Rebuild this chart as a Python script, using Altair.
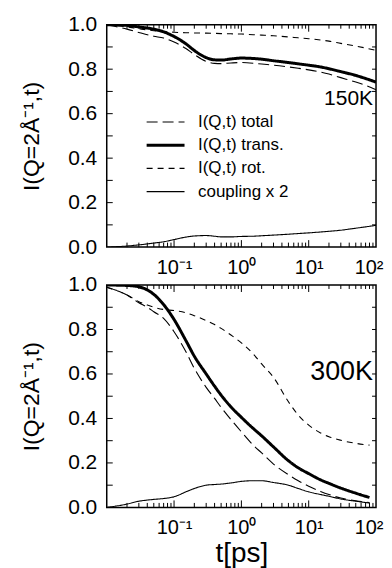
import altair as alt
import pandas as pd

# ---------------- data ----------------
SERIES = ["I(Q,t) total", "I(Q,t) trans.", "I(Q,t) rot.", "coupling x 2"]

T150 = [0.01, 0.02, 0.03, 0.05, 0.07, 0.1, 0.15, 0.2, 0.3, 0.4, 0.5, 0.7, 1,
        1.5, 2, 3, 5, 7, 10, 15, 20, 30, 50, 70, 100]
total150 = [1.0, 0.98, 0.965, 0.948, 0.94, 0.922, 0.893, 0.866, 0.835, 0.826, 0.825,
            0.828, 0.83, 0.827, 0.823, 0.818, 0.81, 0.804, 0.797, 0.787, 0.778,
            0.762, 0.742, 0.727, 0.708]
trans150 = [1.0, 0.997, 0.99, 0.98, 0.968, 0.947, 0.914, 0.884, 0.852, 0.842, 0.841,
            0.846, 0.85, 0.848, 0.845, 0.838, 0.83, 0.824, 0.818, 0.81, 0.802,
            0.789, 0.772, 0.758, 0.742]
rot150 = [1.0, 0.99, 0.982, 0.973, 0.969, 0.966, 0.964, 0.963, 0.962, 0.961, 0.96,
          0.959, 0.958, 0.955, 0.953, 0.95, 0.945, 0.941, 0.937, 0.931, 0.926,
          0.916, 0.904, 0.895, 0.885]
coup150 = [0.0, 0.005, 0.01, 0.018, 0.024, 0.034, 0.045, 0.05, 0.052, 0.049, 0.046,
           0.046, 0.048, 0.049, 0.051, 0.054, 0.058, 0.061, 0.064, 0.068, 0.071,
           0.076, 0.085, 0.091, 0.098]

T300 = [0.01, 0.02, 0.03, 0.04, 0.05, 0.07, 0.1, 0.15, 0.2, 0.3, 0.4, 0.5, 0.7, 1,
        1.5, 2, 3, 5, 7, 10, 15, 20, 30, 50, 70, 80]
total300 = [0.99, 0.955, 0.92, 0.9, 0.88, 0.85, 0.79, 0.7, 0.625, 0.54, 0.49, 0.45,
            0.395, 0.34, 0.28, 0.245, 0.195, 0.147, 0.12, 0.095, 0.072, 0.058,
            0.042, 0.03, 0.024, 0.022]
trans300 = [1.0, 0.998, 0.992, 0.978, 0.958, 0.912, 0.845, 0.75, 0.68, 0.6, 0.545,
            0.505, 0.452, 0.405, 0.355, 0.322, 0.272, 0.21, 0.178, 0.152, 0.124, 0.108,
            0.087, 0.064, 0.05, 0.045]
rot300 = [0.99, 0.955, 0.925, 0.91, 0.9, 0.89, 0.885, 0.875, 0.862, 0.84, 0.822,
          0.805, 0.775, 0.74, 0.69, 0.645, 0.585, 0.475, 0.415, 0.37, 0.335, 0.318,
          0.302, 0.288, 0.282, 0.28]
coup300 = [0.0, 0.015, 0.028, 0.033, 0.036, 0.04, 0.048, 0.07, 0.085, 0.1, 0.103,
           0.105, 0.11, 0.117, 0.12, 0.12, 0.112, 0.1, 0.085, 0.07, 0.058, 0.05,
           0.038, 0.028, 0.022, 0.02]

PANEL_LABELS = ["150K", "300K"]

XTICK_VALUES = [0.1, 1, 10, 100]
XTICK_LABELS = ["10\u207b\u00b9", "10\u2070", "10\u00b9", "10\u00b2"]
YTICK_VALUES = [0.0, 0.2, 0.4, 0.6, 0.8, 1.0]
XMAJOR = [0.1, 1, 10]
XMINOR = [m * d for d in [0.01, 0.1, 1, 10] for m in range(2, 10)]
YMINOR = [0.1, 0.2, 0.3, 0.4, 0.5, 0.6, 0.7, 0.8, 0.9]

YTITLE = "I(Q=2\u00c5\u207b\u00b9,t)"
XTITLE = "t[ps]"


def long_df(t, cols):
    rows = []
    for name, vals in zip(SERIES, cols):
        for ti, vi in zip(t, vals):
            rows.append({"t": ti, "v": vi, "series": name})
    return pd.DataFrame(rows)


df150 = long_df(T150, [total150, trans150, rot150, coup150])
df300 = long_df(T300, [total300, trans300, rot300, coup300])

# ---------------- styling ----------------
W, H = 270, 223
FONT = "Liberation Sans"

label_expr = " : ".join(
    [f"datum.value < {v * 1.5} ? '{l}'" for v, l in zip(XTICK_VALUES[:-1], XTICK_LABELS[:-1])]
    + [f"'{XTICK_LABELS[-1]}'"]
)

color_scale = alt.Scale(type="ordinal", domain=SERIES, range=["black"] * 4)
dash_scale = alt.Scale(type="ordinal", domain=SERIES, range=[[11, 5], [1, 0], [6, 5], [1, 0]])
width_scale = alt.Scale(type="ordinal", domain=SERIES, range=[1.1, 3.0, 1.1, 1.1])


def panel(df, label, label_size, label_y, legend, xtitle):
    x_enc = alt.X(
        "t:Q",
        scale=alt.Scale(type="log", domain=[0.01, 100], nice=False),
        axis=alt.Axis(values=XTICK_VALUES, labelExpr=label_expr, ticks=False,
                      domain=False, grid=False, labelFontSize=20, labelFont=FONT,
                      labelColor="black", labelPadding=10, labelFlush=True,
                      labelFlushOffset=7,
                      title=xtitle, titleFontSize=28, titleFont=FONT,
                      titleFontWeight="normal", titleColor="black", titlePadding=2),
    )
    y_enc = alt.Y(
        "v:Q",
        scale=alt.Scale(domain=[0, 1], nice=False),
        axis=alt.Axis(values=YTICK_VALUES, format=".1f", ticks=False, domain=False,
                      grid=False, labelFontSize=21, labelFont=FONT, labelColor="black",
                      labelPadding=10, title=YTITLE, titleFontSize=23, titleFont=FONT,
                      titleFontWeight="normal", titleColor="black", titlePadding=24),
    )
    lines = alt.Chart(df).mark_line(clip=True, interpolate="monotone").encode(
        x=x_enc,
        y=y_enc,
        color=alt.Color("series:N", scale=color_scale, sort=SERIES, legend=legend),
        strokeDash=alt.StrokeDash("series:N", scale=dash_scale, sort=SERIES, legend=legend),
        strokeWidth=alt.StrokeWidth("series:N", scale=width_scale, sort=SERIES, legend=legend),
    )
    xmaj = pd.DataFrame({"t": XMAJOR})
    xmin = pd.DataFrame({"t": XMINOR})
    ymin = pd.DataFrame({"v": YMINOR})
    tick_style = dict(color="black", strokeWidth=1)
    ticks = [
        alt.Chart(xmaj).mark_rule(**tick_style).encode(x=x_enc, y=alt.value(0), y2=alt.value(7)),
        alt.Chart(xmaj).mark_rule(**tick_style).encode(x=x_enc, y=alt.value(H), y2=alt.value(H - 7)),
        alt.Chart(xmin).mark_rule(**tick_style).encode(x=x_enc, y=alt.value(0), y2=alt.value(4)),
        alt.Chart(xmin).mark_rule(**tick_style).encode(x=x_enc, y=alt.value(H), y2=alt.value(H - 4.5)),
        alt.Chart(ymin).mark_rule(**tick_style).encode(y=y_enc, x=alt.value(0), x2=alt.value(6)),
        alt.Chart(ymin).mark_rule(**tick_style).encode(y=y_enc, x=alt.value(W), x2=alt.value(W - 4)),
    ]
    txt = alt.Chart(pd.DataFrame({"label": [label]})).mark_text(
        align="right", baseline="alphabetic", font=FONT, fontSize=label_size, color="black"
    ).encode(text="label:N", x=alt.value(W - 3), y=alt.value(label_y))
    return alt.layer(lines, *ticks, txt).properties(width=W, height=H)


legend = alt.Legend(
    title=None, orient="none", legendX=38.5, legendY=87.5, symbolType="stroke",
    symbolSize=1444, labelFont=FONT, labelFontSize=17, labelColor="black",
    symbolStrokeColor="black", labelOffset=12, clipHeight=20, rowPadding=3.3,
    padding=0,
)

top = panel(df150, PANEL_LABELS[0], 21, 81, legend, None)
bottom = panel(df300, PANEL_LABELS[1], 27, 95, None, XTITLE)

chart = alt.vconcat(top, bottom, spacing=38, bounds="flush").configure_view(
    stroke="black", strokeWidth=1.5
).properties(padding={"left": 12, "top": 4, "right": 0, "bottom": 0})

chart.save("out.html", embed_options={"renderer": "svg", "actions": False})
